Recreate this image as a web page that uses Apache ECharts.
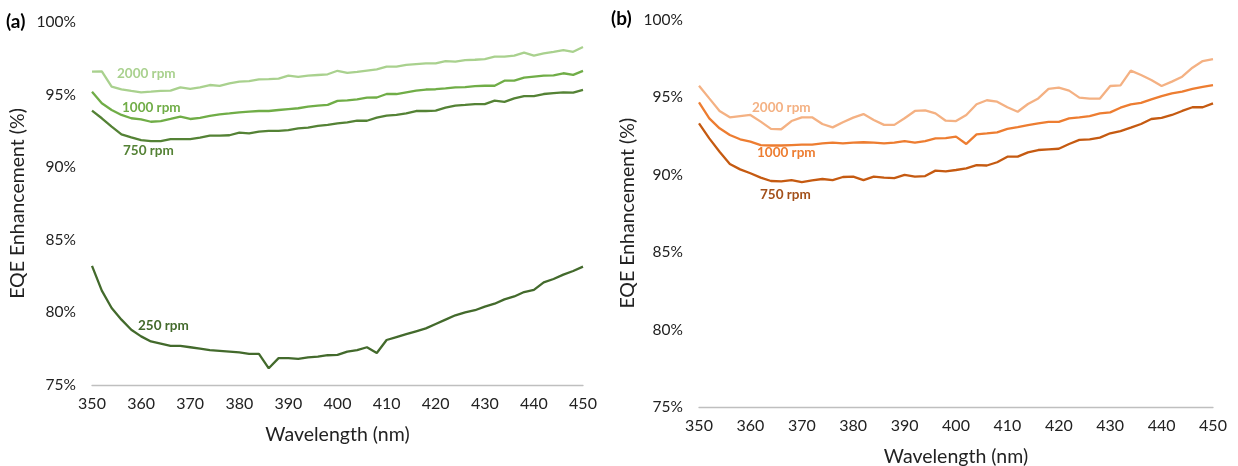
<!DOCTYPE html>
<html>
<head>
<meta charset="utf-8">
<script src="https://cdn.jsdelivr.net/npm/echarts@6/dist/echarts.min.js"></script>
<style>html,body{margin:0;padding:0;background:#fff;}#c{width:1238px;height:466px;}</style>
</head>
<body>
<div id="c"></div>
<script>
// wavelengths every 2 nm from 350 to 450
const wavelengths = [350,352,354,356,358,360,362,364,366,368,370,372,374,376,378,380,382,384,386,388,390,392,394,396,398,400,402,404,406,408,410,412,414,416,418,420,422,424,426,428,430,432,434,436,438,440,442,444,446,448,450];
const xTicks = [350,360,370,380,390,400,410,420,430,440,450];
const yTicks = [75,80,85,90,95,100];

// Panel (a)
const a2000 = [96.58,96.6,95.55,95.36,95.25,95.16,95.2,95.25,95.27,95.5,95.4,95.5,95.66,95.6,95.78,95.9,95.93,96.05,96.07,96.1,96.3,96.22,96.3,96.35,96.4,96.64,96.5,96.56,96.65,96.74,96.92,96.92,97.04,97.1,97.15,97.15,97.31,97.27,97.38,97.4,97.45,97.61,97.61,97.68,97.89,97.68,97.84,97.95,98.07,97.95,98.28];
const a1000 = [95.2,94.4,93.94,93.6,93.37,93.3,93.13,93.17,93.32,93.48,93.32,93.4,93.53,93.64,93.7,93.78,93.83,93.87,93.87,93.94,94.0,94.06,94.17,94.24,94.29,94.57,94.6,94.67,94.79,94.8,95.04,95.04,95.16,95.27,95.35,95.37,95.43,95.5,95.52,95.59,95.61,95.61,95.96,95.96,96.17,96.24,96.3,96.33,96.47,96.36,96.63];
const a750 = [93.9,93.37,92.8,92.26,92.06,91.87,91.8,91.8,91.94,91.94,91.94,92.03,92.17,92.17,92.2,92.38,92.33,92.45,92.5,92.5,92.56,92.68,92.72,92.84,92.91,93.02,93.09,93.2,93.2,93.41,93.55,93.6,93.71,93.87,93.87,93.89,94.1,94.24,94.29,94.35,94.35,94.58,94.5,94.74,94.9,94.9,95.04,95.1,95.16,95.13,95.32];
const a250 = [83.2,81.5,80.3,79.5,78.8,78.35,78.0,77.85,77.7,77.7,77.6,77.5,77.4,77.35,77.3,77.25,77.15,77.15,76.15,76.85,76.85,76.8,76.9,76.95,77.05,77.07,77.3,77.4,77.6,77.2,78.1,78.3,78.5,78.7,78.9,79.2,79.5,79.8,80.0,80.15,80.4,80.6,80.9,81.1,81.4,81.55,82.07,82.3,82.6,82.85,83.15];

// Panel (b)
const b2000 = [95.73,94.91,94.1,93.69,93.77,93.84,93.41,92.94,92.92,93.45,93.69,93.69,93.26,93.04,93.37,93.67,93.9,93.52,93.2,93.2,93.63,94.1,94.14,93.94,93.47,93.45,93.84,94.53,94.79,94.7,94.34,94.05,94.55,94.91,95.52,95.6,95.41,94.96,94.9,94.9,95.71,95.75,96.7,96.42,96.1,95.71,95.99,96.31,96.89,97.32,97.45];
const b1000 = [94.66,93.62,92.98,92.55,92.27,92.12,91.9,91.87,91.87,91.9,91.93,91.93,92.01,92.05,92.01,92.05,92.08,92.05,92.01,92.05,92.16,92.05,92.16,92.33,92.35,92.44,91.97,92.59,92.65,92.72,92.94,93.06,93.19,93.3,93.4,93.4,93.62,93.69,93.77,93.94,94.01,94.31,94.53,94.62,94.85,95.06,95.24,95.34,95.52,95.66,95.77];
const b750 = [93.3,92.33,91.47,90.68,90.33,90.08,89.8,89.58,89.55,89.64,89.51,89.62,89.71,89.64,89.84,89.86,89.64,89.86,89.8,89.77,89.97,89.86,89.9,90.25,90.2,90.29,90.4,90.61,90.58,90.79,91.15,91.15,91.43,91.58,91.62,91.66,91.97,92.23,92.26,92.38,92.66,92.8,93.02,93.26,93.58,93.66,93.84,94.1,94.34,94.34,94.59];

const seriesLabels = ['2000 rpm','1000 rpm','750 rpm','250 rpm'];
const panelTags = ['(a)','(b)'];

const FONT = 'Lato, "Open Sans", sans-serif';
const zip = arr => wavelengths.map((w,i)=>[w,arr[i]]);

function xAxis(gi){
  return {type:'value', gridIndex:gi, min:xTicks[0], max:xTicks[xTicks.length-1], interval:10,
    name:'Wavelength (nm)', nameLocation:'middle', nameGap: gi===0?40:40,
    nameTextStyle:{fontFamily:FONT,fontSize:19.5,color:'#222'},
    axisLine:{show:true,lineStyle:{color:'#bfbfbf',width:1.3}}, axisTick:{show:false},
    splitLine:{show:false},
    axisLabel:{fontFamily:FONT,fontSize:16,color:'#222',margin:11}};
}
function yAxis(gi){
  return {type:'value', gridIndex:gi, min:yTicks[0], max:yTicks[yTicks.length-1], interval:5,
    name:'EQE Enhancement (%)', nameLocation:'middle', nameGap: gi===0?64:61, nameRotate:90,
    nameTextStyle:{fontFamily:FONT,fontSize:19.5,color:'#222'},
    axisLine:{show:false}, axisTick:{show:false}, splitLine:{show:false},
    axisLabel:{fontFamily:FONT,fontSize:15.5,color:'#222',margin:16,formatter:'{value}%'}};
}
function line(data, color, gi){
  return {type:'line', xAxisIndex:gi, yAxisIndex:gi, data:zip(data), showSymbol:false, symbol:'none',
    lineStyle:{color:color,width:2.3}, itemStyle:{color:color}, animation:false};
}
function lbl(text,x,y,color){
  return {type:'text', left:x, top:y, style:{text:text, fill:color, font:'bold 13.5px '+FONT}};
}

const chart = echarts.init(document.getElementById('c'), null, {renderer:'canvas'});
chart.setOption({
  animation:false,
  backgroundColor:'#fff',
  grid:[
    {left:92, right:655, top:22, bottom:81, containLabel:false, outerBoundsMode:'none'},
    {left:699, right:25, top:19.5, bottom:59, containLabel:false, outerBoundsMode:'none'}
  ],
  xAxis:[xAxis(0), xAxis(1)],
  yAxis:[yAxis(0), yAxis(1)],
  series:[
    line(a250,'#436a2c',0),
    line(a750,'#548235',0),
    line(a1000,'#70ad47',0),
    line(a2000,'#a9d18e',0),
    line(b750,'#c55a11',1),
    line(b1000,'#ed7d31',1),
    line(b2000,'#f4b183',1)
  ],
  graphic:[
    {type:'text', left:6, top:12, style:{text:panelTags[0], fill:'#000', font:'bold 19px '+FONT}},
    {type:'text', left:611, top:9, style:{text:panelTags[1], fill:'#000', font:'bold 19px '+FONT}},
    lbl(seriesLabels[0],117,67,'#a9d18e'),
    lbl(seriesLabels[1],122,101,'#70ad47'),
    lbl(seriesLabels[2],123,144,'#548235'),
    lbl(seriesLabels[3],138,319,'#436a2c'),
    lbl(seriesLabels[0],752,101,'#f4b183'),
    lbl(seriesLabels[1],757,146,'#ed7d31'),
    lbl(seriesLabels[2],760,188,'#a3501a')
  ]
});
</script>
</body>
</html>
